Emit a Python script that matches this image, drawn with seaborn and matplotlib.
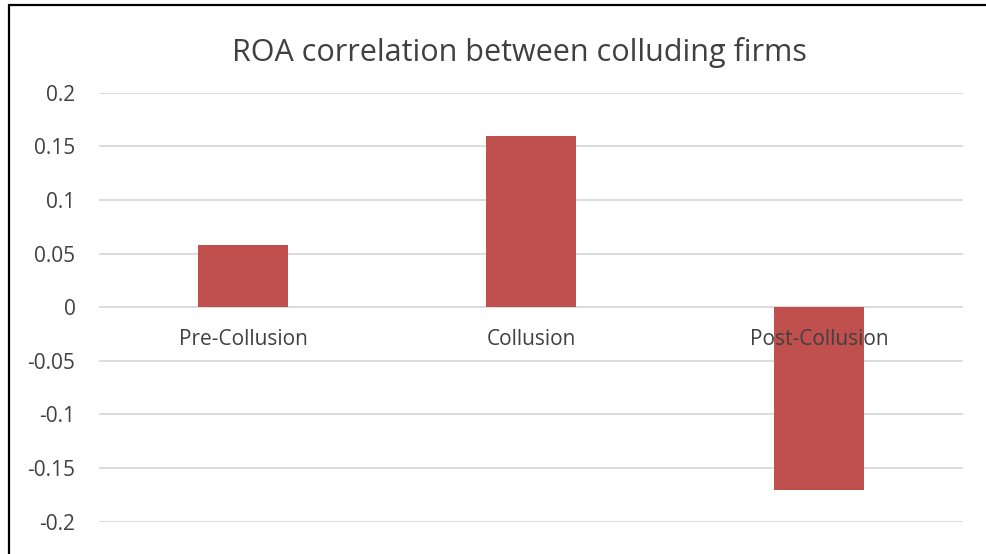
import matplotlib
matplotlib.use("Agg")
import matplotlib.pyplot as plt
from matplotlib.lines import Line2D
import seaborn as sns
import pandas as pd

# ROA correlation for each collusion phase
phases = ["Pre-Collusion", "Collusion", "Post-Collusion"]
roa_corr = [0.058, 0.16, -0.17]
y_ticks = [0.2, 0.15, 0.1, 0.05, 0, -0.05, -0.1, -0.15, -0.2]
y_tick_labels = ["0.2", "0.15", "0.1", "0.05", "0", "-0.05", "-0.1", "-0.15", "-0.2"]

sns.set_theme(style="white")
plt.rcParams["font.family"] = ["Open Sans", "DejaVu Sans"]

W, H = 986, 554
fig = plt.figure(figsize=(W / 100, H / 100), dpi=100)
ax = fig.add_axes([99 / W, 1 - 521.7 / H, (963 - 99) / W, (521.7 - 92.7) / H])

df = pd.DataFrame({"phase": phases, "roa": roa_corr})
sns.barplot(data=df, x="phase", y="roa", color="#C0504D", saturation=1,
            width=0.31, linewidth=0, ax=ax, zorder=3)

ax.set_ylim(-0.2, 0.2)
ax.set_yticks(y_ticks)
ax.set_yticklabels(y_tick_labels)
ax.yaxis.grid(True, color="#D9D9D9", linewidth=1.3)
ax.set_axisbelow(True)
# category labels sit on top of the bars
ax.xaxis.set_zorder(5)
ax.set_xlabel("")
ax.set_ylabel("")

for side in ["top", "right", "left"]:
    ax.spines[side].set_visible(False)
ax.spines["bottom"].set_position(("data", 0))
ax.spines["bottom"].set_visible(False)

ax.tick_params(axis="y", length=0, pad=17, labelsize=15, labelcolor="#404040")
ax.tick_params(axis="x", length=0, pad=16, labelsize=15, labelcolor="#404040")

fig.text(0.527, 1 - 53 / H, "ROA correlation between colluding firms",
         ha="center", va="center", fontsize=22, color="#404040")

# outer frame (left and top edges)
fig.add_artist(Line2D([9 / W, 9 / W], [0, 1 - 5 / H], transform=fig.transFigure,
                      color="black", linewidth=1.6))
fig.add_artist(Line2D([9 / W, 1], [1 - 5 / H, 1 - 5 / H], transform=fig.transFigure,
                      color="black", linewidth=1.6))

fig.savefig("out.png", dpi=100)
